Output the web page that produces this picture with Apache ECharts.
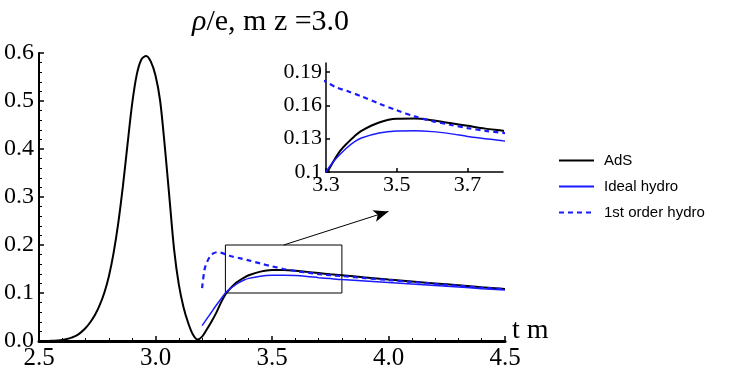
<!DOCTYPE html>
<html>
<head>
<meta charset="utf-8">
<script src="https://cdn.jsdelivr.net/npm/echarts@6/dist/echarts.min.js"></script>
<style>
  html, body { margin: 0; padding: 0; background: #fff; }
  #chart { width: 731px; height: 377px; }
</style>
</head>
<body>
<div id="chart"></div>
<script>
// values (t m, rho/e)
const tAds = [2.5, 2.52, 2.54, 2.56, 2.58, 2.6, 2.62, 2.64, 2.66, 2.68, 2.7, 2.72, 2.74, 2.76, 2.78, 2.8, 2.82, 2.84, 2.86, 2.88, 2.9, 2.92, 2.94, 2.96, 2.98, 3.0, 3.02, 3.04, 3.06, 3.08, 3.1, 3.12, 3.14, 3.16, 3.18, 3.2, 3.22, 3.24, 3.26, 3.28, 3.3, 3.32, 3.34, 3.36, 3.38, 3.4, 3.45, 3.5, 3.55, 3.6, 3.65, 3.7, 3.75, 3.8, 3.9, 4.0, 4.1, 4.2, 4.3, 4.4, 4.5];
const rhoAds = [0, 0, 0, 0.0005, 0.001, 0.002, 0.004, 0.007, 0.011, 0.018, 0.027, 0.039, 0.054, 0.074, 0.1, 0.135, 0.183, 0.245, 0.322, 0.41, 0.495, 0.556, 0.587, 0.594, 0.582, 0.553, 0.5, 0.405, 0.297, 0.19, 0.118, 0.071, 0.038, 0.014, 0.003, 0.009, 0.024, 0.04, 0.058, 0.079, 0.097, 0.109, 0.119, 0.126, 0.132, 0.137, 0.1445, 0.1478, 0.148, 0.1465, 0.144, 0.1415, 0.139, 0.137, 0.1325, 0.128, 0.124, 0.12, 0.116, 0.112, 0.1085];

const tIdeal = [3.2, 3.22, 3.24, 3.26, 3.28, 3.3, 3.32, 3.34, 3.36, 3.38, 3.4, 3.45, 3.5, 3.55, 3.6, 3.65, 3.7, 3.75, 3.8, 3.9, 4.0, 4.1, 4.2, 4.3, 4.4, 4.5];
const rhoIdeal = [0.032, 0.046, 0.06, 0.074, 0.087, 0.1, 0.109, 0.116, 0.122, 0.127, 0.1305, 0.135, 0.1368, 0.137, 0.1363, 0.1345, 0.132, 0.13, 0.128, 0.125, 0.122, 0.119, 0.1155, 0.1125, 0.109, 0.106];

const tFirst = [3.2, 3.21, 3.22, 3.235, 3.25, 3.265, 3.28, 3.3, 3.33, 3.36, 3.4, 3.45, 3.5, 3.55, 3.6, 3.65, 3.7, 3.75, 3.8, 3.9, 4.0, 4.1, 4.2, 4.3, 4.4, 4.5];
const rhoFirst = [0.11, 0.148, 0.163, 0.177, 0.183, 0.185, 0.184, 0.181, 0.176, 0.1728, 0.168, 0.1615, 0.1555, 0.15, 0.1458, 0.1425, 0.1395, 0.137, 0.1352, 0.131, 0.127, 0.123, 0.119, 0.115, 0.111, 0.108];

const insetXTicks = [3.3, 3.5, 3.7];
const insetYTicks = [0.1, 0.13, 0.16, 0.19];

const serif = 'Liberation Serif';
const blue = '#1a1aff';

function pts(xs, ys) {
  return xs.map((x, i) => [x, ys[i]]);
}

function line(name, xs, ys, idx, style) {
  return {
    name: name,
    type: 'line',
    xAxisIndex: idx,
    yAxisIndex: idx,
    data: pts(xs, ys),
    showSymbol: false,
    symbol: 'none',
    smooth: 0.3,
    silent: true,
    lineStyle: style,
    itemStyle: { color: style.color }
  };
}

const adsStyle = { color: '#000', width: 2 };
const idealStyle = { color: blue, width: 1.5 };
const firstStyle = { color: blue, width: 2.2, type: [5, 4] };

const chart = echarts.init(document.getElementById('chart'));

const mainAds = line('AdS', tAds, rhoAds, 0, adsStyle);
// zoom box and arrow to the inset
mainAds.markArea = {
  silent: true,
  itemStyle: { color: 'transparent', borderColor: '#000', borderWidth: 1 },
  data: [[{ coord: [3.3, 0.1] }, { coord: [3.8, 0.2] }]]
};
mainAds.markLine = {
  silent: true,
  symbol: ['none', 'arrow'],
  symbolSize: [9, 15],
  label: { show: false },
  lineStyle: { color: '#000', width: 1, type: 'solid' },
  data: [[{ coord: [3.55, 0.2] }, { coord: [4.0, 0.27] }]]
};

const option = {
  animation: false,
  title: {
    text: '{i|ρ}/e, m z =3.0',
    left: 187,
    top: 2,
    textStyle: {
      fontFamily: serif,
      fontSize: 30,
      fontWeight: 'normal',
      color: '#000',
      rich: { i: { fontFamily: serif, fontSize: 30, fontStyle: 'italic', color: '#000' } }
    }
  },
  legend: {
    left: 558,
    top: 153,
    padding: 0,
    orient: 'vertical',
    itemWidth: 35,
    itemHeight: 14,
    itemGap: 11,
    selectedMode: false,
    itemStyle: { opacity: 0, color: 'transparent', borderColor: 'transparent' },
    data: ['AdS', 'Ideal hydro', '1st order hydro'],
    textStyle: { fontFamily: 'Liberation Sans', fontSize: 15, color: '#000', padding: [0, 0, 0, 5] }
  },
  grid: [
    { left: 39, top: 53, width: 466, height: 288 },
    { left: 326, top: 63, width: 177, height: 109 }
  ],
  xAxis: [
    {
      type: 'value', gridIndex: 0, min: 2.5, max: 4.5, interval: 0.5,
      name: 't m', nameLocation: 'end', nameGap: 7,
      nameTextStyle: { fontFamily: serif, fontSize: 28, color: '#000', verticalAlign: 'bottom', lineHeight: 21 },
      axisLine: { lineStyle: { color: '#000', width: 3 } },
      axisTick: { inside: true, length: 5, lineStyle: { color: '#000', width: 1.5 } },
      minorTick: { show: true, splitNumber: 5, length: 3, lineStyle: { color: '#000', width: 1 } },
      splitLine: { show: false },
      axisLabel: { fontFamily: serif, fontSize: 25, color: '#000', margin: 5, formatter: v => v.toFixed(1) }
    },
    {
      type: 'value', gridIndex: 1, min: 3.3, max: 3.8,
      axisLine: { lineStyle: { color: '#000', width: 1.5 } },
      axisTick: { inside: true, length: 4, customValues: insetXTicks, lineStyle: { color: '#000', width: 1.5 } },
      splitLine: { show: false },
      axisLabel: { fontFamily: serif, fontSize: 22, color: '#000', margin: 2, customValues: insetXTicks, formatter: v => v.toFixed(1) }
    }
  ],
  yAxis: [
    {
      type: 'value', gridIndex: 0, min: 0, max: 0.6, interval: 0.1,
      axisLine: { show: true, lineStyle: { color: '#000', width: 2 } },
      axisTick: { show: true, inside: true, length: 5, lineStyle: { color: '#000', width: 1.5 } },
      minorTick: { show: true, splitNumber: 5, length: 3, lineStyle: { color: '#000', width: 1 } },
      splitLine: { show: false },
      axisLabel: { fontFamily: serif, fontSize: 24, color: '#000', margin: 5, formatter: v => v.toFixed(1) }
    },
    {
      type: 'value', gridIndex: 1, min: 0.1, max: 0.198,
      axisLine: { show: true, lineStyle: { color: '#000', width: 1.5 } },
      axisTick: { show: true, inside: true, length: 4, customValues: insetYTicks, lineStyle: { color: '#000', width: 1.5 } },
      splitLine: { show: false },
      axisLabel: { fontFamily: serif, fontSize: 22, color: '#000', margin: 4, customValues: insetYTicks, formatter: v => String(+v.toFixed(2)) }
    }
  ],
  series: [
    mainAds,
    line('Ideal hydro', tIdeal, rhoIdeal, 0, idealStyle),
    line('1st order hydro', tFirst, rhoFirst, 0, firstStyle),
    line('AdS', tAds, rhoAds, 1, adsStyle),
    line('Ideal hydro', tIdeal, rhoIdeal, 1, idealStyle),
    line('1st order hydro', tFirst, rhoFirst, 1, firstStyle)
  ]
};

chart.setOption(option);
</script>
</body>
</html>
